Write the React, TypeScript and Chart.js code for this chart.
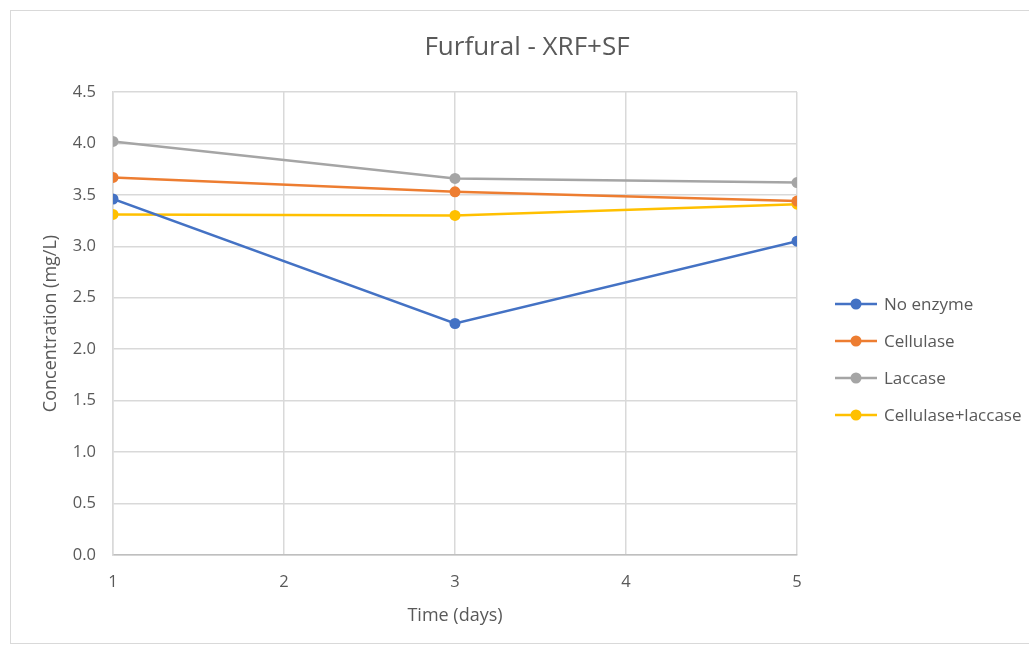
import React, { useEffect, useRef } from "react";
import { Chart, registerables } from "chart.js";

Chart.register(...registerables);

const chartTitle = "Furfural - XRF+SF";
const xTitle = "Time (days)";
const yTitle = "Concentration (mg/L)";
const days = [1, 3, 5];
const seriesNames = ["No enzyme", "Cellulase", "Laccase", "Cellulase+laccase"];
const noEnzyme = [3.46, 2.25, 3.05];
const cellulase = [3.67, 3.53, 3.44];
const laccase = [4.02, 3.66, 3.62];
const cellLaccase = [3.31, 3.30, 3.41];
const seriesValues = [noEnzyme, cellulase, laccase, cellLaccase];
const seriesColors = ["#4472C4", "#ED7D31", "#A5A5A5", "#FFC000"];

const FONT = "'Open Sans', Lato, sans-serif";
const TEXT = "#595959";

const overlayPlugin = {
  id: "overlay",
  afterDraw(chart: any) {
    const ctx = chart.ctx;
    ctx.save();
    // title
    ctx.fillStyle = TEXT;
    ctx.font = `26px ${FONT}`;
    ctx.textAlign = "center";
    ctx.textBaseline = "middle";
    ctx.fillText(chartTitle, 527, 48);
    // legend
    ctx.font = `17px ${FONT}`;
    ctx.textAlign = "left";
    chart.data.datasets.forEach((ds: any, i: number) => {
      const y = 304 + i * 37;
      ctx.strokeStyle = ds.borderColor;
      ctx.lineWidth = 2.5;
      ctx.beginPath();
      ctx.moveTo(835, y);
      ctx.lineTo(877, y);
      ctx.stroke();
      ctx.fillStyle = ds.borderColor;
      ctx.beginPath();
      ctx.arc(856, y, 5.5, 0, Math.PI * 2);
      ctx.fill();
      ctx.fillStyle = TEXT;
      ctx.fillText(ds.label, 884, y + 1);
    });
    ctx.restore();
  },
};

export default function App() {
  const ref = useRef<HTMLCanvasElement>(null);
  useEffect(() => {
    if (!ref.current) return;
    const chart = new Chart(ref.current, {
      type: "line",
      data: {
        datasets: seriesNames.map((name, i) => ({
          label: name,
          data: days.map((d, j) => ({ x: d, y: seriesValues[i][j] })),
          borderColor: seriesColors[i],
          backgroundColor: seriesColors[i],
          borderWidth: 2.5,
          pointRadius: 5.5,
          pointHoverRadius: 5.5,
          pointBorderWidth: 0,
          tension: 0,
        })),
      },
      options: {
        animation: false,
        responsive: false,
        layout: { padding: { left: 40, right: 232, top: 92, bottom: 19 } },
        plugins: {
          legend: { display: false },
          title: { display: false },
          tooltip: { enabled: false },
        },
        scales: {
          x: {
            type: "linear",
            min: 1,
            max: 5,
            ticks: {
              stepSize: 1,
              color: TEXT,
              font: { family: FONT, size: 16.5 },
              padding: 17,
            },
            grid: { color: "#d9d9d9", lineWidth: 1.5, drawTicks: false },
            border: { color: "#bfbfbf", width: 1.5 },
            title: {
              display: true,
              text: xTitle,
              color: TEXT,
              font: { family: FONT, size: 18 },
              padding: 0,
            },
            afterFit: (s: any) => {
              s.height = 72;
            },
          },
          y: {
            min: 0,
            max: 4.5,
            ticks: {
              stepSize: 0.5,
              color: TEXT,
              font: { family: FONT, size: 16.5 },
              padding: 17,
              callback: (v: any) => Number(v).toFixed(1),
            },
            grid: { color: "#d9d9d9", lineWidth: 1.5, drawTicks: false },
            border: { color: "#d9d9d9", width: 1.5 },
            title: {
              display: true,
              text: yTitle,
              color: TEXT,
              font: { family: FONT, size: 18 },
              padding: 0,
            },
            afterFit: (s: any) => {
              s.width = 73;
            },
          },
        },
      },
      plugins: [overlayPlugin],
    });
    return () => chart.destroy();
  }, []);

  return (
    <div style={{ position: "fixed", left: 0, top: 0, width: 1029, height: 646, background: "#fff", overflow: "hidden" }}>
      <div
        style={{
          position: "absolute",
          left: 10,
          top: 10,
          width: 1060,
          height: 632,
          border: "1px solid #d9d9d9",
        }}
      />
      <canvas ref={ref} width={1029} height={646} style={{ position: "absolute", left: 0, top: 0 }} />
    </div>
  );
}
